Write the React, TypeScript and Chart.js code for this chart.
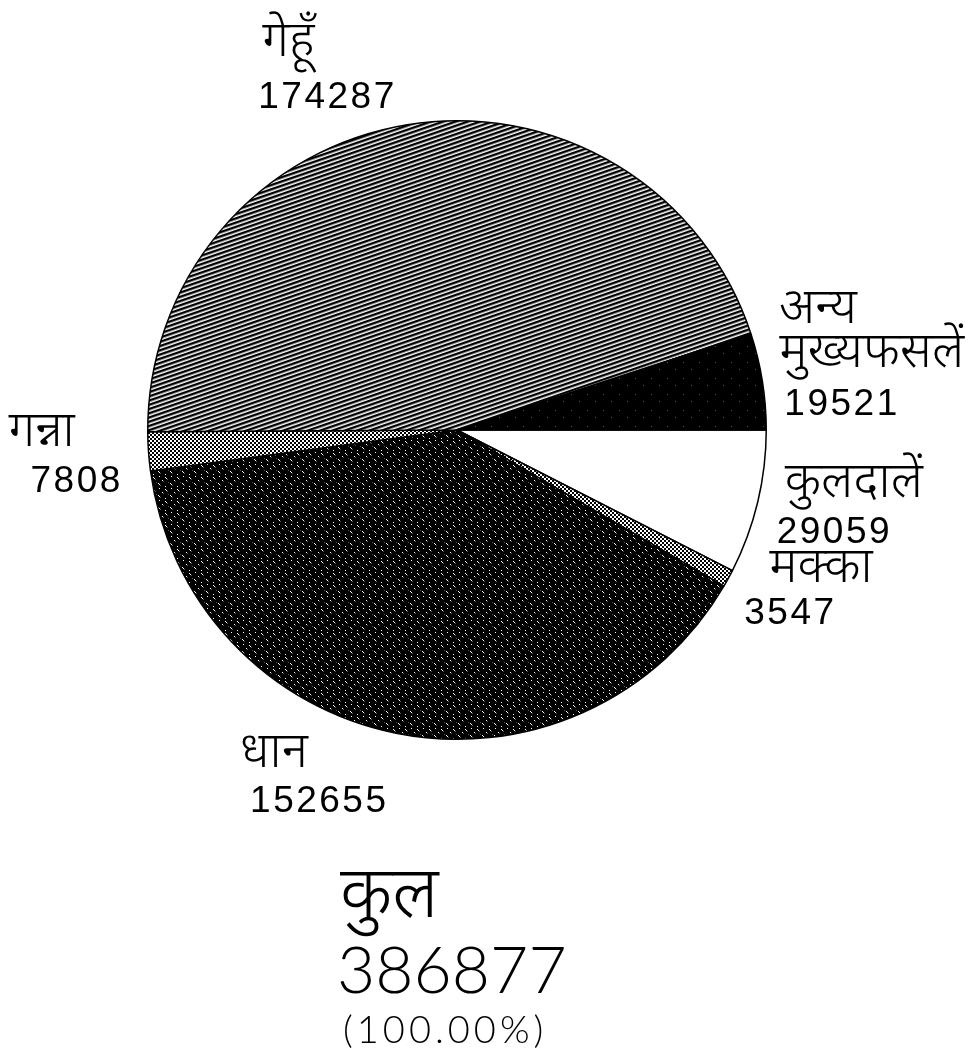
import React, { useEffect, useRef } from "react";
import { Chart, registerables } from "chart.js";

Chart.register(...registerables);

// ---- data ----
const categories = ["कुलदालें", "मक्का", "धान", "गन्ना", "गेहूँ", "अन्य मुख्यफसलें"];
const labelLines = [["कुलदालें"], ["मक्का"], ["धान"], ["गन्ना"], ["गेहूँ"], ["अन्य", "मुख्यफसलें"]];
const values = [29059, 3547, 152655, 7808, 174287, 19521];
const totalTitle = "कुल";
const totalPercent = "(100.00%)";

// ---- label layout (offsets from each slice's outer mid point) ----
const nameOffsets = [
  [[27, -5]],
  [[41, 4]],
  [[-156, 34]],
  [[-140, -5]],
  [[-145, -69]],
  [[17, -58], [17, -14]],
];
const numberOffsets = [
  [19, 41],
  [16, 46],
  [-146, 79],
  [-118, 41],
  [-149, -17],
  [22, 34],
];

const HINDI_FONT = "'Noto Sans Devanagari', 'Lohit Devanagari', 'Mangal', 'FreeSans', 'Noto Sans', sans-serif";
const NUM_FONT = "'Liberation Sans', Arial, sans-serif";

function makeTile(w: number, h: number, draw: (c: CanvasRenderingContext2D) => void) {
  const cv = document.createElement("canvas");
  cv.width = w;
  cv.height = h;
  const c = cv.getContext("2d")!;
  draw(c);
  return cv;
}

function makePatterns(ctx: CanvasRenderingContext2D) {
  const white = "#ffffff";
  const stippleTile = makeTile(4, 4, (c) => {
    c.fillStyle = "#fff";
    c.fillRect(0, 0, 4, 4);
    c.fillStyle = "#000";
    c.fillRect(0, 0, 2, 2);
    c.fillRect(2, 2, 2, 2);
  });
  const stipple = ctx.createPattern(stippleTile, "repeat")!;
  const stipple2 = ctx.createPattern(stippleTile, "repeat")!;
  const riceTile = makeTile(12, 12, (c) => {
    c.fillStyle = "#000";
    c.fillRect(0, 0, 12, 12);
    c.fillStyle = "#fff";
    const pts = [
      [1, 1], [2, 2],
      [7, 0],
      [6, 7], [7, 8],
      [10, 4],
      [1, 10],
    ];
    pts.forEach(([x, y]) => c.fillRect(x, y, 1, 1));
    c.fillStyle = "#555";
    [[3, 3], [8, 9], [11, 5], [4, 6]].forEach(([x, y]) => c.fillRect(x, y, 1, 1));
  });
  const rice = ctx.createPattern(riceTile, "repeat")!;
  const hatchTile = makeTile(8, 4, (c) => {
    c.fillStyle = "#fff";
    c.fillRect(0, 0, 8, 4);
    c.fillStyle = "#000";
    c.fillRect(0, 0, 8, 2.4);
  });
  const hatch = ctx.createPattern(hatchTile, "repeat")!;
  try {
    hatch.setTransform(new DOMMatrix().rotate(-19));
  } catch (e) {}
  const otherTile = makeTile(16, 16, (c) => {
    c.fillStyle = "#000";
    c.fillRect(0, 0, 16, 16);
    c.fillStyle = "#555";
    c.fillRect(3, 2, 1, 1);
    c.fillRect(11, 9, 1, 1);
  });
  const other = ctx.createPattern(otherTile, "repeat")!;
  return [white, stipple, rice, stipple2, hatch, other];
}

const labelPlugin = {
  id: "sliceLabels",
  afterDraw(chart: any) {
    const ctx: CanvasRenderingContext2D = chart.ctx;
    const meta = chart.getDatasetMeta(0);
    ctx.save();
    ctx.fillStyle = "#000";
    ctx.textAlign = "left";
    ctx.textBaseline = "alphabetic";
    meta.data.forEach((arc: any, i: number) => {
      const { x, y, startAngle, endAngle, outerRadius } = arc.getProps(
        ["x", "y", "startAngle", "endAngle", "outerRadius"],
        true
      );
      const mid = (startAngle + endAngle) / 2;
      const ax = x + Math.cos(mid) * outerRadius;
      const ay = y + Math.sin(mid) * outerRadius;
      ctx.font = `300 50px ${HINDI_FONT}`;
      (ctx as any).letterSpacing = "0px";
      labelLines[i].forEach((line, j) => {
        const [dx, dy] = nameOffsets[i][j];
        ctx.fillText(line, ax + dx, ay + dy);
      });
      ctx.font = `37px ${NUM_FONT}`;
      (ctx as any).letterSpacing = "2.5px";
      const [ndx, ndy] = numberOffsets[i];
      ctx.fillText(String(values[i]), ax + ndx, ay + ndy);
    });
    const cx = meta.data[0].x;
    const cy = meta.data[0].y;
    const total = values.reduce((a, b) => a + b, 0);
    (ctx as any).letterSpacing = "0px";
    ctx.font = `300 72px ${HINDI_FONT}`;
    ctx.fillText(totalTitle, cx - 117, cy + 487);
    ctx.font = `300 66px Lato, 'Open Sans', sans-serif`;
    (ctx as any).letterSpacing = "0px";
    ctx.fillText(String(total), cx - 120, cy + 563);
    ctx.font = `300 38px Lato, 'Open Sans', sans-serif`;
    (ctx as any).letterSpacing = "4px";
    ctx.fillText(totalPercent, cx - 114, cy + 613);
    ctx.restore();
  },
};

export default function App() {
  const ref = useRef<HTMLCanvasElement>(null);
  useEffect(() => {
    document.body.style.overflow = "hidden";
    const canvas = ref.current!;
    const ctx = canvas.getContext("2d")!;
    const fills = makePatterns(ctx);
    const chart = new Chart(canvas, {
      type: "pie",
      data: {
        labels: categories,
        datasets: [
          {
            data: values,
            backgroundColor: fills as any,
            borderColor: "#000",
            borderWidth: 1.5,
          },
        ],
      },
      options: {
        responsive: false,
        maintainAspectRatio: false,
        animation: false,
        rotation: 90,
        layout: { padding: { left: 139, top: 112, right: 201, bottom: 310 } },
        plugins: { legend: { display: false }, tooltip: { enabled: false } },
      },
      plugins: [labelPlugin],
    });
    return () => chart.destroy();
  }, []);
  return (
    <div style={{ width: 960, height: 1042, background: "#fff" }}>
      <canvas ref={ref} width={960} height={1042} style={{ display: "block" }} />
    </div>
  );
}
